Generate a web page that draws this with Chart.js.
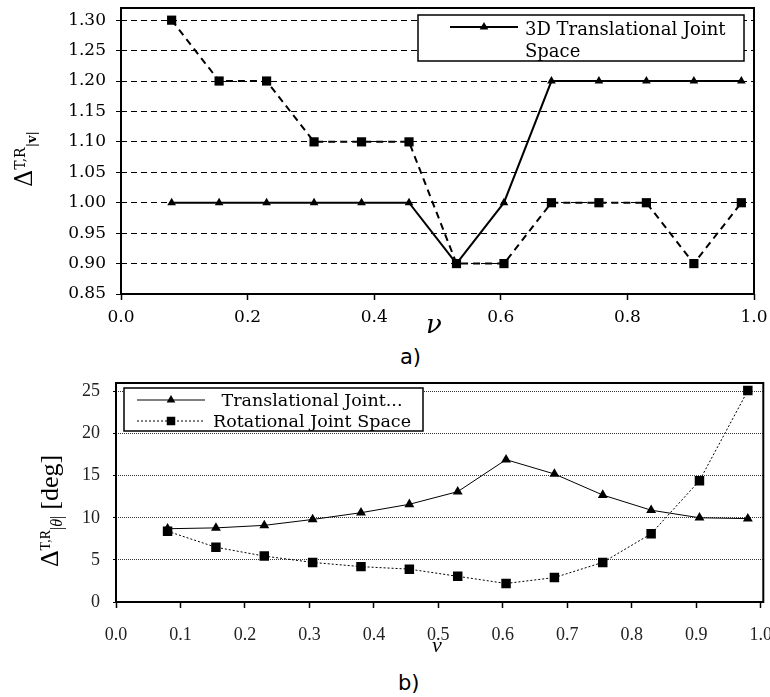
<!DOCTYPE html>
<html>
<head>
<meta charset="utf-8">
<script src="https://cdn.jsdelivr.net/npm/chart.js@4.4.0/dist/chart.umd.min.js"></script>
<style>
  body { margin: 0; background: #fff; }
  #wrap { position: relative; width: 770px; height: 697px; overflow: hidden; }
  canvas { position: absolute; left: 0; }
  .cap { position: absolute; font: 21px "DejaVu Sans", sans-serif; color: #000; line-height: 21px; }
</style>
</head>
<body>
<div id="wrap">
  <canvas id="top-chart" width="770" height="340" style="top:0"></canvas>
  <div class="cap" style="left:400px; top:347px">a)</div>
  <canvas id="bottom-chart" width="770" height="300" style="top:370px"></canvas>
  <div class="cap" style="left:398px; top:673px">b)</div>
</div>
<script>
// sample positions along nu
const nuValues = [0.08, 0.155, 0.23, 0.305, 0.38, 0.455, 0.53, 0.605, 0.68, 0.755, 0.83, 0.905, 0.98];

// a) ratio of |v|
const topTranslational = [1.0, 1.0, 1.0, 1.0, 1.0, 1.0, 0.9, 1.0, 1.2, 1.2, 1.2, 1.2, 1.2];
const topRotational = [1.3, 1.2, 1.2, 1.1, 1.1, 1.1, 0.9, 0.9, 1.0, 1.0, 1.0, 0.9, 1.0];
const topXTicks = [0.0, 0.2, 0.4, 0.6, 0.8, 1.0];
const topYTicks = [0.85, 0.90, 0.95, 1.00, 1.05, 1.10, 1.15, 1.20, 1.25, 1.30];

// b) angle in degrees
const bottomTranslational = [8.7, 8.8, 9.1, 9.8, 10.6, 11.6, 13.1, 16.9, 15.2, 12.7, 10.9, 10.0, 9.9];
const bottomRotational = [8.4, 6.5, 5.45, 4.7, 4.2, 3.9, 3.05, 2.2, 2.9, 4.7, 8.1, 14.4, 25.1];
const bottomXTicks = [0.0, 0.1, 0.2, 0.3, 0.4, 0.5, 0.6, 0.7, 0.8, 0.9, 1.0];
const bottomYTicks = [0, 5, 10, 15, 20, 25];

const SERIF = '"DejaVu Serif", serif';
const CM = '"Liberation Serif", serif';

function toPoints(ys) {
    return nuValues.map((x, i) => ({ x: x, y: ys[i] }));
}

function fixedTicks(values) {
    return scale => { scale.ticks = values.map(v => ({ value: v })); };
}

function drawMarker(ctx, style, r, x, y) {
    ctx.fillStyle = '#000';
    Chart.helpers.drawPoint(ctx, { pointStyle: style, radius: r, rotation: 0, borderWidth: 0 }, x, y);
}

// box around the plot area
const framePlugin = {
    id: 'frame',
    beforeDatasetsDraw(chart) {
        const a = chart.chartArea, ctx = chart.ctx;
        ctx.save();
        ctx.strokeStyle = '#000';
        ctx.lineWidth = 2;
        ctx.strokeRect(a.left, a.top, a.right - a.left, a.bottom - a.top);
        ctx.restore();
    }
};

// legend drawn inside the plot, like the original figure
const boxLegendPlugin = {
    id: 'boxLegend',
    afterDatasetsDraw(chart, args, opts) {
        if (!opts.box) return;
        const ctx = chart.ctx;
        const [bx, by, bw, bh] = opts.box;
        ctx.save();
        ctx.fillStyle = '#fff';
        ctx.fillRect(bx, by, bw, bh);
        ctx.strokeStyle = '#000';
        ctx.lineWidth = 1.5;
        ctx.strokeRect(bx, by, bw, bh);
        opts.rows.forEach(row => {
            const ds = chart.data.datasets[row.dataset];
            ctx.strokeStyle = '#000';
            ctx.lineWidth = row.lineWidth;
            ctx.setLineDash(ds.borderDash || []);
            ctx.beginPath();
            ctx.moveTo(opts.sample[0], row.sampleY);
            ctx.lineTo(opts.sample[1], row.sampleY);
            ctx.stroke();
            ctx.setLineDash([]);
            drawMarker(ctx, ds.pointStyle, row.markerR, (opts.sample[0] + opts.sample[1]) / 2, row.sampleY);
            ctx.fillStyle = '#000';
            ctx.font = opts.font;
            ctx.textAlign = opts.align;
            ctx.textBaseline = 'alphabetic';
            row.lines.forEach((t, i) => ctx.fillText(t, opts.textX, row.baselines[i]));
        });
        ctx.restore();
    }
};

// axis titles with super/subscripts
const richTitlePlugin = {
    id: 'richTitle',
    afterDraw(chart, args, opts) {
        const ctx = chart.ctx;
        (opts.items || []).forEach(item => {
            ctx.save();
            ctx.fillStyle = '#000';
            ctx.textBaseline = 'alphabetic';
            ctx.textAlign = 'left';
            let total = 0;
            item.parts.forEach(p => { ctx.font = p.font; total += ctx.measureText(p.text).width + (p.gap || 0); });
            ctx.translate(item.x, item.y);
            if (item.rotate) ctx.rotate(-Math.PI / 2);
            let x = -total / 2;
            item.parts.forEach(p => {
                ctx.font = p.font;
                ctx.fillText(p.text, x, p.dy || 0);
                x += ctx.measureText(p.text).width + (p.gap || 0);
            });
            ctx.restore();
        });
    }
};

Chart.defaults.color = '#000';
Chart.defaults.animation = false;

new Chart(document.getElementById('top-chart').getContext('2d'), {
    type: 'line',
    data: {
        datasets: [{
            label: '3D Translational Joint Space',
            data: toPoints(topTranslational),
            borderColor: '#000',
            borderWidth: 2,
            pointStyle: 'triangle',
            pointRadius: 5,
            pointBackgroundColor: '#000',
            pointBorderWidth: 0,
            tension: 0
        }, {
            label: '3D Rotational Joint Space',
            data: toPoints(topRotational),
            borderColor: '#000',
            borderWidth: 2,
            borderDash: [7, 5],
            pointStyle: 'rect',
            pointRadius: 6.5,
            pointBackgroundColor: '#000',
            pointBorderWidth: 0,
            tension: 0
        }]
    },
    options: {
        responsive: false,
        devicePixelRatio: 1,
        layout: { padding: { top: 8, right: 16, left: 0, bottom: 0 } },
        scales: {
            x: {
                type: 'linear',
                min: 0,
                max: 1,
                afterBuildTicks: fixedTicks(topXTicks),
                afterFit: scale => { scale.height = 46; scale.paddingLeft = 0; scale.paddingRight = 0; },
                ticks: {
                    font: { family: SERIF, size: 17 },
                    padding: 7,
                    maxRotation: 0,
                    callback: v => v.toFixed(1)
                },
                grid: { drawOnChartArea: false, tickLength: 6, tickColor: '#000', tickWidth: 1.5 },
                border: { display: false }
            },
            y: {
                min: 0.85,
                max: 1.32,
                afterBuildTicks: fixedTicks(topYTicks),
                afterFit: scale => { scale.width = 121; scale.paddingTop = 0; scale.paddingBottom = 0; },
                ticks: {
                    font: { family: SERIF, size: 17 },
                    padding: 10,
                    callback: v => v.toFixed(2)
                },
                grid: { color: '#000', lineWidth: 1, tickLength: 5, tickColor: '#000' },
                border: { display: false, dash: [6, 4] }
            }
        },
        plugins: {
            legend: { display: false },
            tooltip: { enabled: false },
            boxLegend: {
                box: [418, 15, 326, 46],
                sample: [450, 518],
                textX: 525,
                align: 'left',
                font: '18px ' + SERIF,
                rows: [{ dataset: 0, lineWidth: 2, markerR: 5, sampleY: 27, lines: ['3D Translational Joint', 'Space'], baselines: [35, 56.5] }]
            },
            richTitle: {
                items: [{
                    x: 32, y: 159, rotate: true,
                    parts: [
                        { text: 'Δ', font: '24px ' + SERIF },
                        { text: 'T,R', font: '14px ' + SERIF, dy: -7 },
                        { text: '|', font: '13px ' + SERIF, dy: 4 },
                        { text: 'v', font: 'bold 13px ' + SERIF, dy: 4 },
                        { text: '|', font: '13px ' + SERIF, dy: 4 }
                    ]
                }, {
                    x: 434, y: 333,
                    parts: [{ text: 'ν', font: 'italic 26px ' + SERIF }]
                }]
            }
        }
    },
    plugins: [framePlugin, boxLegendPlugin, richTitlePlugin]
});

new Chart(document.getElementById('bottom-chart').getContext('2d'), {
    type: 'line',
    data: {
        datasets: [{
            label: 'Translational Joint...',
            data: toPoints(bottomTranslational),
            borderColor: '#000',
            borderWidth: 1,
            pointStyle: 'triangle',
            pointRadius: 5.7,
            pointBackgroundColor: '#000',
            pointBorderWidth: 0,
            tension: 0
        }, {
            label: 'Rotational Joint Space',
            data: toPoints(bottomRotational),
            borderColor: '#000',
            borderWidth: 1,
            borderDash: [2, 2],
            pointStyle: 'rect',
            pointRadius: 6.7,
            pointBackgroundColor: '#000',
            pointBorderWidth: 0,
            tension: 0
        }]
    },
    options: {
        responsive: false,
        devicePixelRatio: 1,
        layout: { padding: { top: 13, right: 6, left: 0, bottom: 0 } },
        scales: {
            x: {
                type: 'linear',
                min: 0,
                max: 1.004,
                afterBuildTicks: fixedTicks(bottomXTicks),
                afterFit: scale => { scale.height = 68; scale.paddingLeft = 0; scale.paddingRight = 0; },
                ticks: {
                    font: { family: CM, size: 18 },
                    color: '#222',
                    padding: 16,
                    maxRotation: 0,
                    callback: v => v.toFixed(1)
                },
                grid: { drawOnChartArea: false, tickLength: 6, tickColor: '#000', tickWidth: 1.5 },
                border: { display: false }
            },
            y: {
                min: 0,
                max: 26,
                afterBuildTicks: fixedTicks(bottomYTicks),
                afterFit: scale => { scale.width = 116; scale.paddingTop = 0; scale.paddingBottom = 0; },
                ticks: {
                    font: { family: CM, size: 18 },
                    color: '#222',
                    padding: 13,
                    callback: v => String(v)
                },
                grid: { color: '#333', lineWidth: 1, tickLength: 3, tickColor: '#000' },
                border: { display: false, dash: [1, 1] }
            }
        },
        plugins: {
            legend: { display: false },
            tooltip: { enabled: false },
            boxLegend: {
                box: [124, 18, 299, 43],
                sample: [137, 205],
                textX: 312,
                align: 'center',
                font: '17.5px ' + SERIF,
                rows: [
                    { dataset: 0, lineWidth: 1, markerR: 5, sampleY: 30, lines: ['Translational Joint...'], baselines: [36] },
                    { dataset: 1, lineWidth: 1, markerR: 6, sampleY: 51, lines: ['Rotational Joint Space'], baselines: [57] }
                ]
            },
            richTitle: {
                items: [{
                    x: 58, y: 141, rotate: true,
                    parts: [
                        { text: 'Δ', font: '26px ' + CM },
                        { text: 'T,R', font: '14px ' + CM, dy: -8 },
                        { text: '|', font: '16px ' + CM, dy: 4 },
                        { text: 'θ', font: 'italic 16px ' + CM, dy: 4 },
                        { text: '|', font: '16px ' + CM, dy: 4, gap: 6 },
                        { text: '[deg]', font: '26px ' + CM }
                    ]
                }, {
                    x: 437, y: 282,
                    parts: [{ text: 'v', font: 'italic 22px ' + CM }]
                }]
            }
        }
    },
    plugins: [framePlugin, boxLegendPlugin, richTitlePlugin]
});
</script>
</body>
</html>
